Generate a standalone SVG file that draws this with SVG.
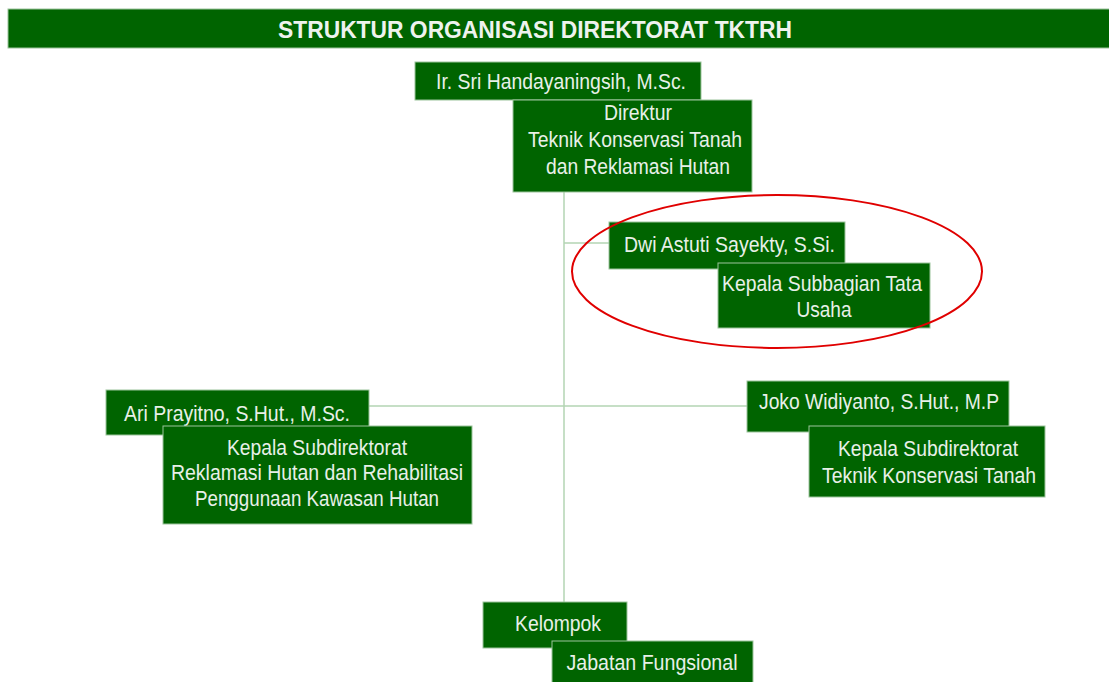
<svg xmlns="http://www.w3.org/2000/svg" width="1109" height="682" viewBox="0 0 1109 682">
<style>
.box{fill:#006400;stroke:#9cc49c;stroke-width:1}
.t{font-family:"Liberation Sans",Arial,sans-serif;font-size:22px;fill:#e8f0e8;text-anchor:middle}
.title{font-family:"Liberation Sans",Arial,sans-serif;font-size:24px;font-weight:bold;fill:#eef3ee;text-anchor:middle}
.conn{stroke:#b3d4b3;stroke-width:1.5;fill:none}
</style>
<rect width="1109" height="682" fill="#ffffff"/>
<g id="title">
<rect x="8" y="9" width="1102" height="39" fill="#006400" stroke="#9cc49c" stroke-width="1"/>
<text class="title" x="535" y="37.5" textLength="514" lengthAdjust="spacingAndGlyphs">STRUKTUR ORGANISASI DIREKTORAT TKTRH</text>
</g>
<g id="connectors">
<line class="conn" x1="564" y1="192" x2="564" y2="602"/>
<line class="conn" x1="564" y1="243" x2="609" y2="243"/>
<line class="conn" x1="369" y1="406" x2="747" y2="406"/>
</g>
<g id="direktur">
<rect class="box" x="415" y="62" width="286" height="38"/>
<text class="t" x="561" y="89" textLength="250" lengthAdjust="spacingAndGlyphs">Ir. Sri Handayaningsih, M.Sc.</text>
<rect class="box" x="513" y="100" width="239" height="92"/>
<text class="t" x="638" y="120" textLength="68" lengthAdjust="spacingAndGlyphs">Direktur</text>
<text class="t" x="635" y="147" textLength="214" lengthAdjust="spacingAndGlyphs">Teknik Konservasi Tanah</text>
<text class="t" x="638" y="174" textLength="184" lengthAdjust="spacingAndGlyphs">dan Reklamasi Hutan</text>
</g>
<g id="subbagian">
<rect class="box" x="609" y="222" width="236" height="47"/>
<text class="t" x="729.5" y="252" textLength="211" lengthAdjust="spacingAndGlyphs">Dwi Astuti Sayekty, S.Si.</text>
<rect class="box" x="718" y="263" width="212" height="65"/>
<text class="t" x="822" y="291" textLength="200" lengthAdjust="spacingAndGlyphs">Kepala Subbagian Tata</text>
<text class="t" x="824" y="317" textLength="55" lengthAdjust="spacingAndGlyphs">Usaha</text>
</g>
<g id="subdit-rh">
<rect class="box" x="106" y="390" width="263" height="45"/>
<text class="t" x="237" y="421" textLength="226" lengthAdjust="spacingAndGlyphs">Ari Prayitno, S.Hut., M.Sc.</text>
<rect class="box" x="163" y="426" width="309" height="98"/>
<text class="t" x="317" y="455" textLength="180" lengthAdjust="spacingAndGlyphs">Kepala Subdirektorat</text>
<text class="t" x="317" y="480" textLength="292" lengthAdjust="spacingAndGlyphs">Reklamasi Hutan dan Rehabilitasi</text>
<text class="t" x="317" y="506" textLength="244" lengthAdjust="spacingAndGlyphs">Penggunaan Kawasan Hutan</text>
</g>
<g id="subdit-tkt">
<rect class="box" x="747" y="381" width="262" height="51"/>
<text class="t" x="879" y="409" textLength="240" lengthAdjust="spacingAndGlyphs">Joko Widiyanto, S.Hut., M.P</text>
<rect class="box" x="809" y="426" width="236" height="71"/>
<text class="t" x="928" y="456" textLength="180" lengthAdjust="spacingAndGlyphs">Kepala Subdirektorat</text>
<text class="t" x="929" y="483" textLength="214" lengthAdjust="spacingAndGlyphs">Teknik Konservasi Tanah</text>
</g>
<g id="fungsional">
<rect class="box" x="483" y="602" width="144" height="46"/>
<text class="t" x="558" y="631" textLength="86" lengthAdjust="spacingAndGlyphs">Kelompok</text>
<rect class="box" x="552" y="641" width="201" height="46"/>
<text class="t" x="652" y="670" textLength="171" lengthAdjust="spacingAndGlyphs">Jabatan Fungsional</text>
</g>
<g id="highlight">
<ellipse cx="777" cy="271.5" rx="205" ry="76.5" fill="none" stroke="#e00000" stroke-width="2"/>
</g>
</svg>
